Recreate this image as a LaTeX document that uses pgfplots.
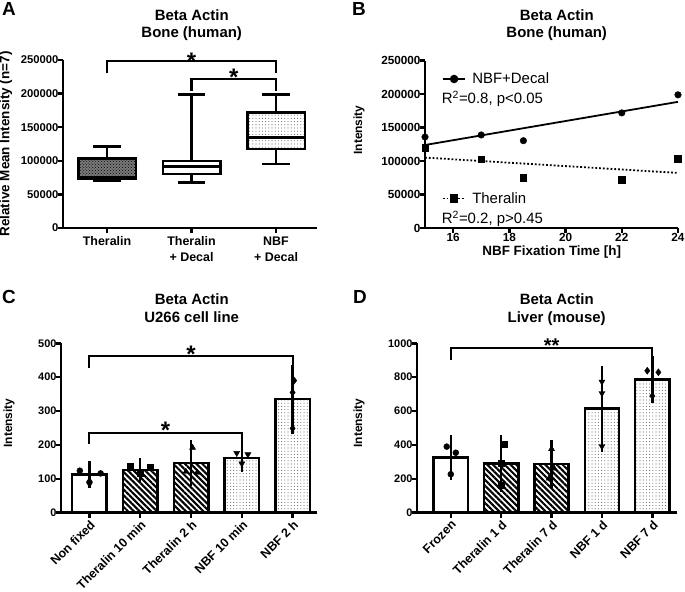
\documentclass[border=0pt]{standalone}
\usepackage{fontspec}
\setmainfont{Liberation Sans}
\usepackage{pgfplots}
\pgfplotsset{compat=1.18}
\usepgfplotslibrary{statistics}
\usetikzlibrary{patterns,patterns.meta}

\newcommand{\fsz}[2]{\fontsize{#1}{#2}\selectfont}

\tikzset{
  stripes/.style={pattern={Lines[angle=-45,distance=4.1bp,line width=2.1bp]}},
  nbfdots/.style={pattern={Dots[distance=3.2bp,radius=0.55bp]}, pattern color=black!60},
  brk/.style={line width=2.1bp, black},
  star/.style={anchor=base, inner sep=0pt, font=\bfseries\fsz{24}{24}},
}
\pgfplotsset{
  gp/.style={
    scale only axis, clip=false, enlargelimits=false,
    axis lines=left, axis line style={-, line width=2.5bp, black},
    tick align=outside, major tick length=5bp,
    tick style={line width=2.5bp, black},
    ticklabel style={font=\bfseries\fsz{11}{13}},
    yticklabel shift=-4bp,
    /pgf/number format/fixed,
    /pgf/number format/assume math mode=true,
    /pgf/number format/1000 sep={},
    scaled y ticks=false,
    anchor=south west,
  },
  gbar/.style={ybar, bar width=0.68, bar shift=0pt, draw=black, line width=2.5bp,
    /pgfplots/error bars/y dir=both, /pgfplots/error bars/y explicit,
    /pgfplots/error bars/error bar style={line width=2.5bp, black, solid},
    /pgfplots/error bars/error mark options={line width=2.5bp, black, mark size=8.3bp, solid}},
  pts/.style={only marks, black, mark size=3bp, mark options={solid, fill=black}},
  leg/.style={legend style={draw=none, fill=none, font=\fsz{15}{18}, inner sep=0pt,
      column sep=6bp, nodes={inner sep=0pt}},
    legend image code/.code={\draw[mark repeat=2,mark phase=2,##1] plot coordinates {(0bp,0bp) (11.3bp,0bp) (22.6bp,0bp)};}},
}

\begin{document}
\begin{tikzpicture}
\useasboundingbox (0,0) rectangle (685bp,592bp);

% ---------------- Panel A ----------------
\begin{axis}[gp, at={(63bp,364bp)}, width=254bp, height=168bp,
  xmin=0.479, xmax=3.485, ymin=0, ymax=250000,
  ytick={0,50000,100000,150000,200000,250000},
  xtick={1,2,3}, xticklabels={Theralin,{Theralin\\+ Decal},{NBF\\+ Decal}},
  xticklabel style={align=center, font=\bfseries\fsz{12.5}{16}},
  yticklabel style={font=\bfseries\fsz{11.3}{13}},
  boxplot/draw direction=y]
\addplot[boxplot prepared={lower whisker=70400, lower quartile=74000, median=75500,
  upper quartile=103700, upper whisker=121000, draw position=1, box extend=0.68, whisker extend=0.33},
  draw=black, line width=2.5bp,
  boxplot/every box/.style={fill=black!52, postaction={pattern=crosshatch dots, pattern color=black}}] coordinates {};
\addplot[boxplot prepared={lower whisker=68000, lower quartile=80400, median=91800,
  upper quartile=99700, upper whisker=199000, draw position=2, box extend=0.68, whisker extend=0.33},
  draw=black, line width=2.5bp, boxplot/every box/.style={fill=white}] coordinates {};
\addplot[boxplot prepared={lower whisker=95200, lower quartile=117500, median=134500,
  upper quartile=171600, upper whisker=199000, draw position=3, box extend=0.68, whisker extend=0.33},
  draw=black, line width=2.5bp, boxplot/every box/.style={pattern={Dots[distance=3.2bp,radius=0.55bp]}, pattern color=black!60}] coordinates {};
\draw[brk] (axis cs:1,230000) -- (axis cs:1,248500) -- (axis cs:3,248500) -- (axis cs:3,230000);
\draw[brk] (axis cs:2,204300) -- (axis cs:2,221700) -- (axis cs:3,221700) -- (axis cs:3,204300);
\node[star] at (axis cs:2,236600) {*};
\node[star] at (axis cs:2.5,211700) {*};
\end{axis}

% ---------------- Panel B ----------------
\begin{axis}[gp, leg, at={(425bp,364bp)}, width=253bp, height=167.3bp,
  xmin=15, xmax=24, ymin=0, ymax=250000,
  xtick={16,18,20,22,24},
  ytick={0,50000,100000,150000,200000,250000},
  xticklabel shift=-3bp,
  ticklabel style={font=\bfseries\fsz{11.8}{13}},
  legend style={at={(0.066,0.8906)}, anchor=west}]
\addplot[only marks, mark=*, mark size=3.3bp, black, forget plot] coordinates {(15,136000) (17,139000) (18.5,130500) (22,172000) (24,199000)};
\addplot[black, line width=1.8bp, forget plot] coordinates {(15,124000) (24,188500)};
\addlegendimage{black, line width=1.8bp, mark=*, mark size=3.3bp}
\addlegendentry{NBF+Decal}
\node[anchor=base west, font=\fsz{15}{18}, inner sep=0pt] at (rel axis cs:0.066,0.7454) {R\textsuperscript{2}=0.8, p<0.05};
\end{axis}
\begin{axis}[gp, leg, hide axis, at={(425bp,364bp)}, width=253bp, height=167.3bp,
  xmin=15, xmax=24, ymin=0, ymax=250000,
  legend style={at={(0.066,0.176)}, anchor=west}]
\addplot[only marks, mark=square*, mark size=3.3bp, black, forget plot] coordinates {(15,120000) (17,103000) (18.5,75400) (22,72000) (24,103700)};
\addplot[black, line width=1.8bp, dotted, forget plot] coordinates {(15,105200) (24,82300)};
\addlegendimage{black, line width=1.8bp, dotted, mark=square*, mark size=3.3bp, mark options={solid}}
\addlegendentry{Theralin}
\node[anchor=base west, font=\fsz{15}{18}, inner sep=0pt] at (rel axis cs:0.066,0.028) {R\textsuperscript{2}=0.2, p>0.45};
\end{axis}

% ---------------- Panel C ----------------
\begin{axis}[gp, at={(61bp,79.3bp)}, width=256bp, height=169.4bp,
  xmin=-0.56, xmax=4.48, ymin=0, ymax=500,
  ytick={0,100,200,300,400,500},
  xtick={0,1,2,3,4},
  xticklabels={Non fixed,Theralin 10 min,Theralin 2 h,NBF 10 min,NBF 2 h},
  xticklabel style={rotate=45, anchor=north east, inner sep=1bp, font=\bfseries\fsz{12.5}{14}}]
\addplot[gbar, fill=white] coordinates {(0,113) +- (0,14.5)};
\addplot[gbar, stripes] coordinates {(1,126) +- (0,12)};
\addplot[gbar, stripes] coordinates {(2,146) +- (0,44)};
\addplot[gbar, nbfdots] coordinates {(3,162) +- (0,17)};
\addplot[gbar, nbfdots] coordinates {(4,335) +- (0,77)};
\addplot[pts, mark=*] coordinates {(-0.19,124) (0.22,116) (0,90)};
\addplot[pts, mark=square*] coordinates {(0.8,136) (1,116) (1.2,134)};
\addplot[pts, mark=triangle*, mark size=3.5bp] coordinates {(2.03,192) (1.9,121) (2.12,118)};
\addplot[pts, mark=triangle*, mark size=3.5bp, mark options={rotate=180}] coordinates {(2.9,176) (3.12,172) (3,145)};
\addplot[pts, mark=diamond*, mark size=3.5bp] coordinates {(4.03,390) (4,355) (4,249)};
\draw[brk] (axis cs:0,428) -- (axis cs:0,462) -- (axis cs:4,462) -- (axis cs:4,428);
\draw[brk] (axis cs:0,203) -- (axis cs:0,234) -- (axis cs:3,234) -- (axis cs:3,203);
\node[star] at (axis cs:2,444) {*};
\node[star] at (axis cs:1.5,220) {*};
\end{axis}

% ---------------- Panel D ----------------
\begin{axis}[gp, at={(417bp,79.3bp)}, width=260bp, height=169.4bp,
  xmin=-0.67, xmax=4.49, ymin=0, ymax=1000,
  ytick={0,200,400,600,800,1000},
  xtick={0,1,2,3,4},
  xticklabels={Frozen,Theralin 1 d,Theralin 7 d,NBF 1 d,NBF 7 d},
  xticklabel style={rotate=45, anchor=north east, inner sep=1bp, font=\bfseries\fsz{12.5}{14}}]
\addplot[gbar, fill=white] coordinates {(0,325) +- (0,83)};
\addplot[gbar, stripes] coordinates {(1,289) +- (0,120)};
\addplot[gbar, stripes] coordinates {(2,287) +- (0,92)};
\addplot[gbar, nbfdots] coordinates {(3,614) +- (0,205)};
\addplot[gbar, nbfdots] coordinates {(4,785) +- (0,90)};
\addplot[pts, mark=*] coordinates {(-0.08,390) (0.1,354) (0,227)};
\addplot[pts, mark=square*] coordinates {(1.06,406) (1,295) (1,163)};
\addplot[pts, mark=triangle*, mark size=3.5bp] coordinates {(2,376) (2.05,262) (1.95,202)};
\addplot[pts, mark=triangle*, mark size=3.5bp, mark options={rotate=180}] coordinates {(3,773) (3,705) (3,392)};
\addplot[pts, mark=diamond*, mark size=3.5bp] coordinates {(3.9,838) (4.12,829) (4,689)};
\draw[brk] (axis cs:0,901) -- (axis cs:0,974) -- (axis cs:4,974) -- (axis cs:4,901);
\node[star, font=\bfseries\fsz{20}{20}] at (axis cs:2,948) {**};
\end{axis}

% ---------------- Texts ----------------
\begin{scope}[every node/.style={inner sep=0pt}]
\node[font=\bfseries\fsz{19}{19}] at (9bp,583.5bp) {A};
\node[font=\bfseries\fsz{19}{19}] at (359bp,583.5bp) {B};
\node[font=\bfseries\fsz{19}{19}] at (9bp,295.5bp) {C};
\node[font=\bfseries\fsz{19}{19}] at (360bp,295bp) {D};
\node[anchor=base, font=\bfseries\fsz{15}{17.6}] at (191.7bp,571.3bp) {Beta Actin};
\node[anchor=base, font=\bfseries\fsz{15}{17.6}] at (191.7bp,554bp) {Bone (human)};
\node[anchor=base, font=\bfseries\fsz{15}{17.6}] at (556.7bp,571.3bp) {Beta Actin};
\node[anchor=base, font=\bfseries\fsz{15}{17.6}] at (556.7bp,554bp) {Bone (human)};
\node[anchor=base, font=\bfseries\fsz{15}{17.6}] at (191.7bp,287bp) {Beta Actin};
\node[anchor=base, font=\bfseries\fsz{15}{17.6}] at (191.7bp,269.5bp) {U266 cell line};
\node[anchor=base, font=\bfseries\fsz{15}{17.6}] at (556.7bp,287bp) {Beta Actin};
\node[anchor=base, font=\bfseries\fsz{15}{17.6}] at (556.7bp,269.5bp) {Liver (mouse)};
\node[rotate=90, font=\bfseries\fsz{13.5}{16}] at (6bp,448bp) {Relative Mean Intensity (n=7)};
\node[rotate=90, font=\bfseries\fsz{12}{14}] at (359bp,462bp) {Intensity};
\node[rotate=90, font=\bfseries\fsz{12}{14}] at (9bp,169bp) {Intensity};
\node[rotate=90, font=\bfseries\fsz{12}{14}] at (359bp,169bp) {Intensity};
\node[font=\bfseries\fsz{13.5}{16}] at (551.7bp,340bp) {NBF Fixation Time [h]};
\end{scope}
\end{tikzpicture}
\end{document}
